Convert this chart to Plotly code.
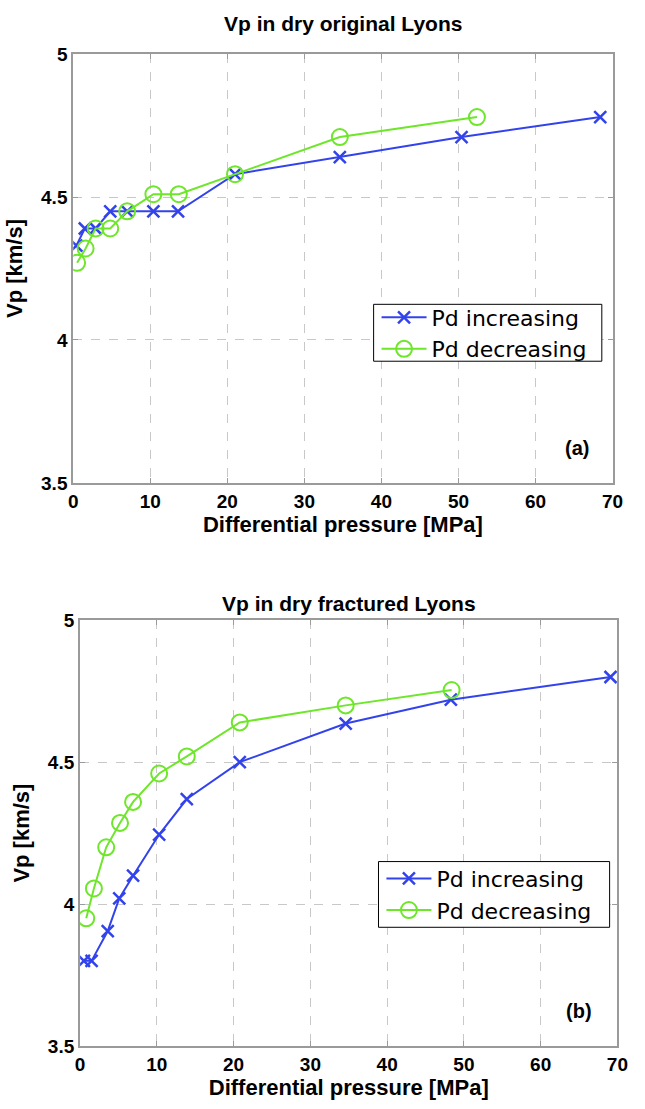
import plotly.graph_objects as go

# Top panel (a): dry original Lyons
a_inc_p = [0.4, 1.5, 2.9, 4.8, 7.0, 10.4, 13.6, 21.0, 34.6, 50.4, 68.4]
a_inc_v = [4.33, 4.39, 4.39, 4.45, 4.45, 4.45, 4.45, 4.58, 4.64, 4.71, 4.78]
a_dec_p = [0.5, 1.6, 2.9, 4.8, 7.0, 10.4, 13.7, 21.0, 34.6, 52.4]
a_dec_v = [4.27, 4.32, 4.39, 4.39, 4.45, 4.51, 4.51, 4.58, 4.71, 4.78]

# Bottom panel (b): dry fractured Lyons
b_inc_p = [0.5, 1.5, 3.6, 5.1, 6.9, 10.3, 13.9, 20.8, 34.6, 48.3, 69.1]
b_inc_v = [3.80, 3.80, 3.905, 4.02, 4.10, 4.245, 4.37, 4.50, 4.636, 4.72, 4.80]
b_dec_p = [0.8, 1.8, 3.4, 5.2, 6.9, 10.3, 13.9, 20.8, 34.6, 48.4]
b_dec_v = [3.95, 4.055, 4.20, 4.286, 4.36, 4.46, 4.52, 4.64, 4.70, 4.754]

x_ticks = [0, 10, 20, 30, 40, 50, 60, 70]
y_ticks = [3.5, 4, 4.5, 5]
y_tick_text = ["3.5", "4", "4.5", "5"]
titles = ["Vp in dry original Lyons", "Vp in dry fractured Lyons"]
labels = ["(a)", "(b)"]
series_names = ["Pd increasing", "Pd decreasing"]
x_title = "Differential pressure [MPa]"
y_title = "Vp [km/s]"

BLUE = "#3343ec"
GREEN = "#6ee62a"
FONT = "Liberation Sans"

fig = go.Figure()

panels = [
    (a_inc_p, a_inc_v, a_dec_p, a_dec_v, "x", "y", "legend"),
    (b_inc_p, b_inc_v, b_dec_p, b_dec_v, "x2", "y2", "legend2"),
]
for ip, iv, dp, dv, xa, ya, lg in panels:
    fig.add_trace(go.Scatter(
        x=ip, y=iv, mode="lines+markers", name=series_names[0],
        xaxis=xa, yaxis=ya, legend=lg,
        line=dict(color=BLUE, width=2),
        marker=dict(symbol="x-thin", size=12, line=dict(color=BLUE, width=2.5), color=BLUE),
    ))
    fig.add_trace(go.Scatter(
        x=dp, y=dv, mode="lines+markers", name=series_names[1],
        xaxis=xa, yaxis=ya, legend=lg,
        line=dict(color=GREEN, width=2),
        marker=dict(symbol="circle-open", size=16, line=dict(color=GREEN, width=2), color=GREEN),
    ))

axis_common = dict(
    showline=True, linecolor="#9a9a9a", linewidth=2, mirror="ticks",
    ticks="inside", ticklen=5, tickcolor="#9a9a9a", tickwidth=1,
    showgrid=True, gridcolor="#c8c8c8", griddash="dash", gridwidth=1,
    zeroline=False,
    tickfont=dict(family=FONT, size=19, color="black", weight="bold"),
)
title_font = dict(family=FONT, size=22, color="black", weight="bold")

W, H = 645, 1109
def px_x(p):
    return p / W
def px_y(p):
    return (H - p) / H

legend_common = dict(xanchor="left", yanchor="top",
                     borderwidth=0, bgcolor="rgba(0,0,0,0)",
                     font=dict(family="DejaVu Sans", size=22, color="black"), tracegroupgap=0,
                     itemwidth=45)

fig.update_layout(
    width=W, height=H,
    margin=dict(l=0, r=0, t=0, b=0),
    paper_bgcolor="white", plot_bgcolor="white",
    xaxis=dict(domain=[px_x(70), px_x(623)], range=[0, 70], tickvals=x_ticks, anchor="y",
               title=dict(text=x_title, standoff=1, font=title_font), **axis_common),
    yaxis=dict(domain=[px_y(482), px_y(45)], range=[3.5, 5], tickvals=y_ticks, ticktext=y_tick_text,
               anchor="x", title=dict(text=y_title, standoff=12, font=title_font), **axis_common),
    xaxis2=dict(domain=[px_x(77), px_x(628)], range=[0, 70], tickvals=x_ticks, anchor="y2",
                title=dict(text=x_title, standoff=4, font=title_font), **axis_common),
    yaxis2=dict(domain=[px_y(1056), px_y(622)], range=[3.5, 5], tickvals=y_ticks, ticktext=y_tick_text,
                anchor="x2", title=dict(text=y_title, standoff=12, font=title_font), **axis_common),
    legend=dict(x=px_x(381), y=px_y(292), **legend_common),
    legend2=dict(x=px_x(386), y=px_y(864), **legend_common),
    showlegend=True,
)

# legend frames (white boxes with black border)
for x0, y0, x1, y1 in [(378, 300, 612, 358), (383, 868, 620, 935)]:
    fig.add_shape(type="rect", xref="paper", yref="paper",
                  x0=px_x(x0), x1=px_x(x1), y0=px_y(y1), y1=px_y(y0),
                  line=dict(color="black", width=1), fillcolor="white", layer="above")

ann_font = dict(family=FONT, size=21, color="black", weight="bold")
fig.add_annotation(text=titles[0], x=(px_x(70) + px_x(623)) / 2, y=px_y(14), xref="paper", yref="paper",
                   xanchor="center", yanchor="middle", showarrow=False, font=ann_font)
fig.add_annotation(text=titles[1], x=(px_x(77) + px_x(628)) / 2, y=px_y(605), xref="paper", yref="paper",
                   xanchor="center", yanchor="middle", showarrow=False, font=ann_font)
fig.add_annotation(text=labels[0], x=px_x(587), y=px_y(446), xref="paper", yref="paper",
                   xanchor="center", yanchor="middle", showarrow=False,
                   font=dict(family=FONT, size=20, color="black", weight="bold"))
fig.add_annotation(text=labels[1], x=px_x(589), y=px_y(1020), xref="paper", yref="paper",
                   xanchor="center", yanchor="middle", showarrow=False,
                   font=dict(family=FONT, size=20, color="black", weight="bold"))

fig.write_html("out.html", config={"displayModeBar": False},
               post_script="document.body.style.margin='0';document.body.style.overflow='hidden';")
